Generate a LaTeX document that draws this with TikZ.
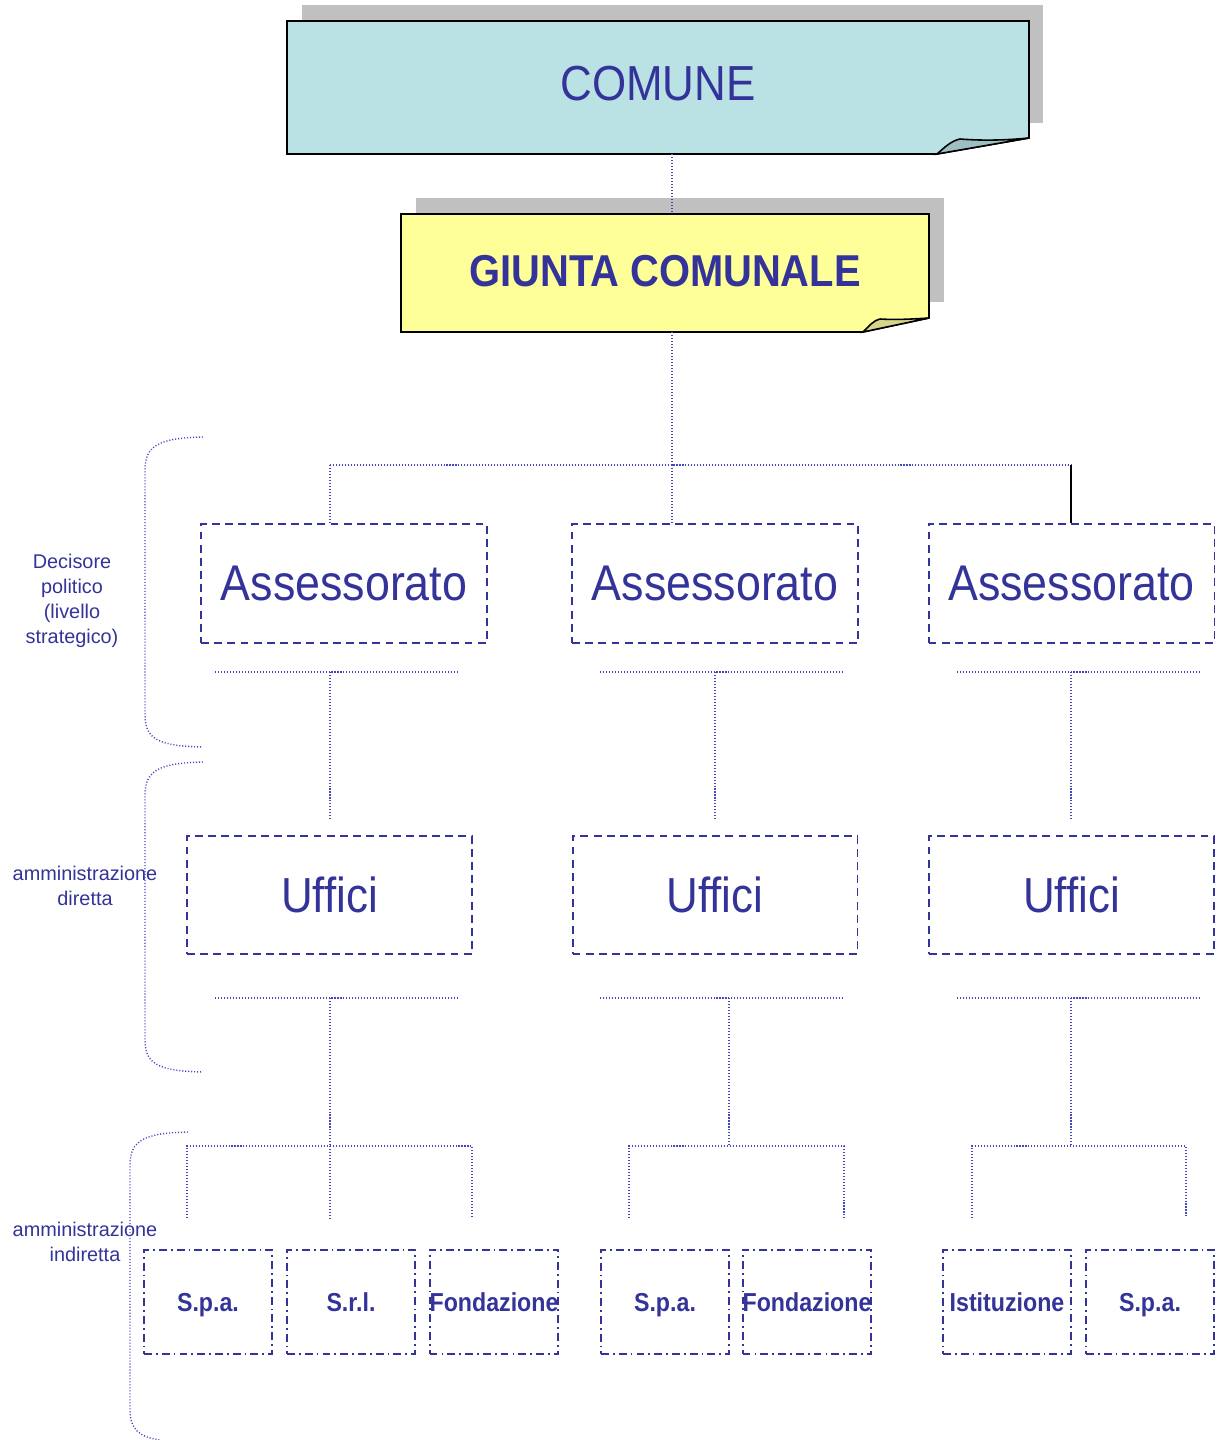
\documentclass[tikz,border=0pt]{standalone}
\usepackage{fontspec}
\setmainfont{Liberation Sans}
\usepackage{graphicx}

\definecolor{navy}{HTML}{333399}
\definecolor{dotblue}{HTML}{4545BF}
\definecolor{comunefill}{HTML}{BAE1E4}
\definecolor{comunefold}{HTML}{9DBFC3}
\definecolor{giuntafill}{HTML}{FFFF99}
\definecolor{giuntafold}{HTML}{D6D68A}
\definecolor{shadowgray}{HTML}{C0C0C0}

\newcommand{\tall}[1]{\scalebox{1}[1.12]{#1}}

\tikzset{
	link/.style={dotblue, line width=0.8pt, dash pattern=on 0.6pt off 1.1pt},
	bigtext/.style={text=navy, inner sep=0pt, font=\fontsize{25}{30}\selectfont},
	assbox/.style={bigtext, font=\fontsize{25.5}{30}\selectfont, draw=navy, line width=1.1pt, dash pattern=on 4.5pt off 3pt,
		minimum width=5.72cm, minimum height=2.38cm},
	uffbox/.style={assbox, font=\fontsize{25}{30}\selectfont, minimum width=5.7cm, minimum height=2.36cm},
	entbox/.style={draw=navy, text=navy, line width=1.1pt, inner sep=0pt,
		dash pattern=on 4.5pt off 2.3pt on 1pt off 2.3pt, text height=10.4pt, text depth=0pt,
		minimum width=2.56cm, minimum height=2.08cm, font=\fontsize{13.2}{15}\bfseries},
	sidelabel/.style={text=navy, align=center, inner sep=0pt, font=\fontsize{11.3}{14.2}\selectfont}
}

\begin{document}
\begin{tikzpicture}[x=0.02cm, y=-0.02cm]
			\useasboundingbox (0,0) rectangle (1219,1440);
			% comune
			\fill[shadowgray] (302,5) rectangle (1043,123);
			\draw[fill=comunefill, line width=0.9pt] (287,21) -- (1029,21) -- (1029,138) -- (937,154) -- (287,154) -- cycle;
			\draw[fill=comunefold, line width=0.9pt] (937,154) .. controls (945,147) and (951,141) .. (960,139) .. controls (985,141) and (1008,140) .. (1029,138) -- cycle;
			\node[bigtext, text height=20pt, text depth=5.1pt, minimum width=14.84cm, minimum height=2.66cm] (comune) at (658,87.5) {\tall{COMUNE}};
			% giunta
			\fill[shadowgray] (416,198) rectangle (944,302);
			\draw[fill=giuntafill, line width=0.9pt] (401,214) -- (929,214) -- (929,318) -- (863,332) -- (401,332) -- cycle;
			\draw[fill=giuntafold, line width=0.9pt] (863,332) .. controls (869,326) and (874,320) .. (880,319) .. controls (897,320) and (913,319) .. (929,318) -- cycle;
			\node[bigtext, font=\fontsize{22.7}{27}\bfseries, text height=18.2pt, text depth=3.4pt, minimum width=10.56cm, minimum height=2.36cm] (giunta) at (665,273) {\tall{GIUNTA COMUNALE}};
			% assessorati
			\node[assbox] (ass1) at (344,583.5) {\tall{Assessorato}};
			\node[assbox] (ass2) at (715,583.5) {\tall{Assessorato}};
			\node[assbox] (ass3) at (1071.5,583.5) {\tall{Assessorato}};
			% uffici
			\node[uffbox] (uff1) at (329.5,895) {\tall{Uffici}};
			\node[uffbox] (uff2) at (715,895) {\tall{Uffici}};
			\node[uffbox] (uff3) at (1071.5,895) {\tall{Uffici}};
			% enti
			\node[entbox] (spa1) at (208,1302) {\tall{S.p.a.}};
			\node[entbox] (srl1) at (351,1302) {\tall{S.r.l.}};
			\node[entbox] (fond1) at (494,1302) {\tall{Fondazione}};
			\node[entbox] (spa2) at (665,1302) {\tall{S.p.a.}};
			\node[entbox] (fond2) at (807,1302) {\tall{Fondazione}};
			\node[entbox] (ist3) at (1007,1302) {\tall{Istituzione}};
			\node[entbox] (spa3) at (1150,1302) {\tall{S.p.a.}};
			% side labels and braces
			\node[sidelabel] (lpol) at (72,601) {Decisore\\politico\\(livello\\strategico)};
			\node[sidelabel] (ldir) at (85,886) {amministrazione\\diretta};
			\node[sidelabel] (lind) at (85,1242) {amministrazione\\indiretta};
			\draw[link] (203,437) .. controls (160,438) and (145,445) .. (145,470) -- (145,715) .. controls (145,740) and (160,746) .. (203,747);
			\draw[link] (203,762) .. controls (160,763) and (145,770) .. (145,795) -- (145,1040) .. controls (145,1065) and (160,1071) .. (203,1072);
			\draw[link] (188,1132) .. controls (145,1133) and (130,1140) .. (130,1165) -- (130,1410) .. controls (130,1430) and (140,1437) .. (160,1440);
			% top connectors
			\coordinate (hub) at (672,465);
			\coordinate (bus1) at (330,465);
			\coordinate (bus3) at (1071,465);
			\draw[link] (comune.south -| hub) -- (giunta.north -| hub);
			\draw[link] (giunta.south -| hub) -- (hub);
			\draw[link] (bus1) -- (bus3);
			\draw[link] (bus1) -- (bus1 |- ass1.north);
			\draw[link] (hub) -- (hub |- ass2.north);
			\draw[line width=0.9pt] (bus3) -- (bus3 |- ass3.north);
			% assessorato to uffici
			\coordinate (abar1) at (330,672);
			\coordinate (abar2) at (715,672);
			\coordinate (abar3) at (1071,672);
			\draw[link] (215,672) -- (458,672);
			\draw[link] (600,672) -- (843,672);
			\draw[link] (957,672) -- (1199,672);
			\draw[link] (abar1) -- ++(0,148);
			\draw[link] (abar2) -- ++(0,148);
			\draw[link] (abar3) -- ++(0,148);
			% uffici to enti
			\coordinate (ubar1) at (330,998);
			\coordinate (ubar2) at (729,998);
			\coordinate (ubar3) at (1071,998);
			\coordinate (fork1) at (330,1146);
			\coordinate (fork2) at (729,1146);
			\coordinate (fork3) at (1071,1146);
			\draw[link] (215,998) -- (458,998);
			\draw[link] (600,998) -- (843,998);
			\draw[link] (957,998) -- (1199,998);
			\draw[link] (ubar1) -- (fork1);
			\draw[link] (ubar2) -- (fork2);
			\draw[link] (ubar3) -- (fork3);
			\draw[link] (187,1218) -- (187,1146) -- (472,1146) -- (472,1218);
			\draw[link] (fork1) -- (330,1218);
			\draw[link] (629,1218) -- (629,1146) -- (844,1146) -- (844,1218);
			\draw[link] (972,1218) -- (972,1146) -- (1186,1146) -- (1186,1218);
		\end{tikzpicture}
\end{document}
